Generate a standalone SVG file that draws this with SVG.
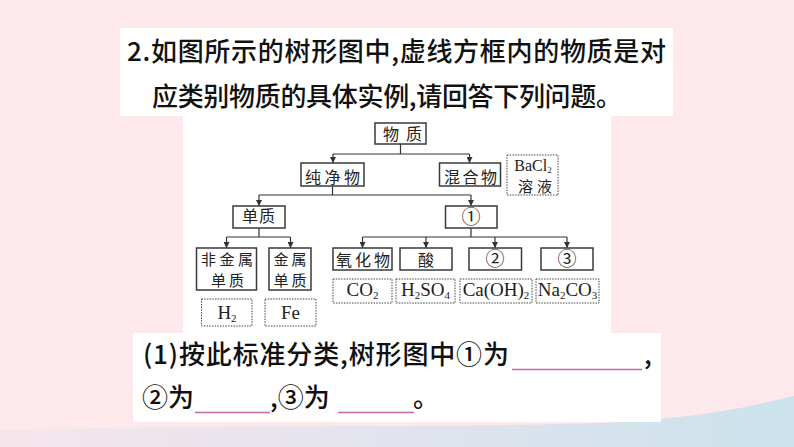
<svg xmlns="http://www.w3.org/2000/svg" width="794" height="447" viewBox="0 0 794 447">
<defs>
<linearGradient id="wave" x1="0" y1="0" x2="1" y2="0">
<stop offset="0" stop-color="#f6e6ec"/>
<stop offset="0.6" stop-color="#dde3ec"/>
<stop offset="1" stop-color="#cbe2ec"/>
</linearGradient>
<marker id="arr" viewBox="0 0 6 6" refX="6" refY="3" markerWidth="6" markerHeight="6" markerUnits="userSpaceOnUse" orient="auto">
<path d="M0,0 L6,3 L0,6 z" fill="#333"/>
</marker>
</defs>
<style>
.panel{fill:#ffffff}
.box{fill:#ffffff;stroke:#3a3a3a;stroke-width:1.5}
.dbox{fill:#ffffff;stroke:#444;stroke-width:1;stroke-dasharray:1.5 1.2}
.zh{font-family:"Noto Sans CJK SC","Noto Sans CJK TC",sans-serif;font-size:16px;fill:#222}
.zs{font-size:15px}
.num{font-family:"Noto Sans CJK SC",sans-serif;font-size:19px;fill:#222;text-anchor:middle}
.fm{font-family:"Liberation Serif","Times New Roman",serif;font-size:19px;fill:#222;text-anchor:middle}
.sub{font-size:11px}
.q{font-family:"Noto Sans CJK SC","Noto Sans CJK TC",sans-serif;font-size:26px;fill:#111;font-weight:500}
.con{fill:none;stroke:#333;stroke-width:1.2}
.blank{stroke:#c266ad;stroke-width:1.5}
</style>
<rect x="0" y="0" width="794" height="447" fill="#fde8eb"/>
<path d="M0 447 L0 430 C200 424 420 428 560 424 C660 422 720 414 794 396 L794 447 Z" fill="url(#wave)"/>
<rect class="panel" x="120" y="28" width="553" height="88"/>
<rect class="panel" x="183" y="116" width="428" height="217"/>
<rect class="panel" x="133" y="333" width="528" height="89"/>

<g id="title">
<text class="q" x="127" y="61" textLength="539" lengthAdjust="spacing">2.如图所示的树形图中,虚线方框内的物质是对</text>
<text class="q" x="152" y="106" textLength="470" lengthAdjust="spacing">应类别物质的具体实例,请回答下列问题。</text>
</g>

<g id="connectors">
<path class="con" d="M400.5 144 V154 M333 154 H469.5"/>
<line class="con" x1="333" y1="154" x2="333" y2="163" marker-end="url(#arr)"/>
<line class="con" x1="469.5" y1="154" x2="469.5" y2="163" marker-end="url(#arr)"/>
<path class="con" d="M332.5 186 V195 M259 195 H471"/>
<line class="con" x1="259" y1="195" x2="259" y2="206" marker-end="url(#arr)"/>
<line class="con" x1="471" y1="195" x2="471" y2="206" marker-end="url(#arr)"/>
<path class="con" d="M259 228 V237 M226.5 237 H290.5"/>
<line class="con" x1="226.5" y1="237" x2="226.5" y2="248" marker-end="url(#arr)"/>
<line class="con" x1="290.5" y1="237" x2="290.5" y2="248" marker-end="url(#arr)"/>
<path class="con" d="M471 228 V237 M362.5 237 H567"/>
<line class="con" x1="362.5" y1="237" x2="362.5" y2="248" marker-end="url(#arr)"/>
<line class="con" x1="426" y1="237" x2="426" y2="248" marker-end="url(#arr)"/>
<line class="con" x1="495" y1="237" x2="495" y2="248" marker-end="url(#arr)"/>
<line class="con" x1="567" y1="237" x2="567" y2="248" marker-end="url(#arr)"/>
</g>

<g id="n-wuzhi">
<rect class="box" x="375" y="123" width="51" height="21"/>
<text class="zh" x="383 406" y="140">物质</text>
</g>
<g id="n-chunjingwu">
<rect class="box" x="301" y="163" width="63" height="23"/>
<text class="zh" x="305 324.5 344" y="182.5">纯净物</text>
</g>
<g id="n-hunhewu">
<rect class="box" x="439.5" y="163" width="61" height="23"/>
<text class="zh" x="444 462.5 481" y="182.5">混合物</text>
</g>
<g id="n-bacl2">
<rect class="dbox" x="507" y="155" width="51" height="40"/>
<text class="fm" x="533" y="171" style="font-size:16px">BaCl<tspan dy="2" style="font-size:9px">2</tspan></text>
<text class="zh zs" x="518 537" y="192">溶液</text>
</g>
<g id="n-danzhi">
<rect class="box" x="233" y="206" width="52" height="22"/>
<text class="zh" x="242 259" y="221.5">单质</text>
</g>
<g id="n-1">
<rect class="box" x="445.5" y="206" width="51.5" height="22"/>
<text class="num" x="471" y="224">①</text>
</g>
<g id="n-feijinshu">
<rect class="box" x="196.5" y="248" width="60" height="42"/>
<text class="zh zs" x="201 219.5 238" y="265">非金属</text>
<text class="zh zs" x="211 229" y="285.5">单质</text>
</g>
<g id="n-jinshu">
<rect class="box" x="269" y="248" width="42" height="42"/>
<text class="zh zs" x="273.5 291.5" y="265">金属</text>
<text class="zh zs" x="273.5 291.5" y="285.5">单质</text>
</g>
<g id="n-h2">
<rect class="dbox" x="201.5" y="299" width="50.5" height="27"/>
<text class="fm" x="227" y="319">H<tspan class="sub" dy="3">2</tspan></text>
</g>
<g id="n-fe">
<rect class="dbox" x="265" y="299" width="51" height="27"/>
<text class="fm" x="290.5" y="319">Fe</text>
</g>
<g id="n-yanghuawu">
<rect class="box" x="333" y="248" width="59" height="22"/>
<text class="zh" x="336 355 374" y="266">氧化物</text>
</g>
<g id="n-suan">
<rect class="box" x="400" y="248" width="52" height="22"/>
<text class="zh" x="418" y="266">酸</text>
</g>
<g id="n-2">
<rect class="box" x="469" y="248" width="52.5" height="22"/>
<text class="num" x="495" y="266">②</text>
</g>
<g id="n-3">
<rect class="box" x="541" y="248" width="52" height="22"/>
<text class="num" x="567" y="266">③</text>
</g>
<g id="n-co2">
<rect class="dbox" x="333" y="279" width="59" height="24"/>
<text class="fm" x="362.5" y="295.5">CO<tspan class="sub" dy="3">2</tspan></text>
</g>
<g id="n-h2so4">
<rect class="dbox" x="396" y="279" width="59" height="24"/>
<text class="fm" x="425.5" y="295.5">H<tspan class="sub" dy="3">2</tspan><tspan dy="-3">SO</tspan><tspan class="sub" dy="3">4</tspan></text>
</g>
<g id="n-caoh2">
<rect class="dbox" x="460" y="279" width="72" height="24"/>
<text class="fm" x="496" y="295.5">Ca(OH)<tspan class="sub" dy="3">2</tspan></text>
</g>
<g id="n-na2co3">
<rect class="dbox" x="536" y="279" width="63" height="24"/>
<text class="fm" x="567.5" y="295.5">Na<tspan class="sub" dy="3">2</tspan><tspan dy="-3">CO</tspan><tspan class="sub" dy="3">3</tspan></text>
</g>

<g id="question">
<text class="q" x="143" y="364" textLength="366" lengthAdjust="spacing">(1)按此标准分类,树形图中①为</text>
<line class="blank" x1="512" y1="369.5" x2="642" y2="369.5"/>
<text class="q" x="644" y="364">,</text>
<text class="q" x="142" y="407">②为</text>
<line class="blank" x1="195" y1="412.5" x2="270" y2="412.5"/>
<text class="q" x="270" y="407">,③为</text>
<line class="blank" x1="338" y1="412.5" x2="414" y2="412.5"/>
<text class="q" x="413" y="407">。</text>
</g>
</svg>
